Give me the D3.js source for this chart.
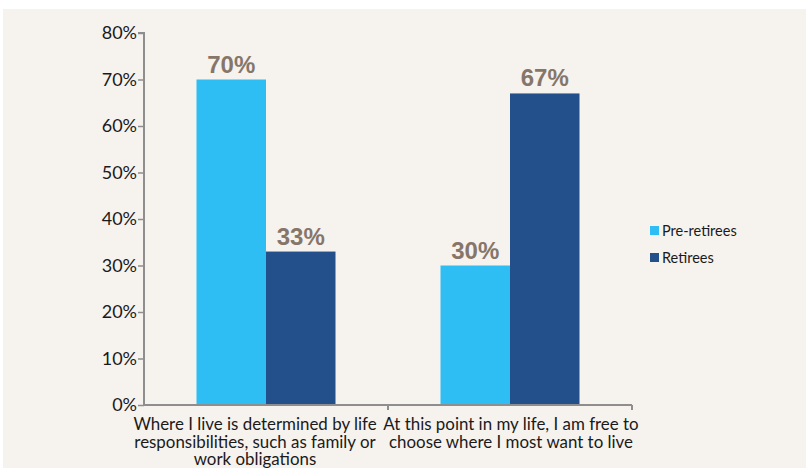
<!DOCTYPE html>
<html><head><meta charset="utf-8">
<script src="https://cdn.jsdelivr.net/npm/d3@7"></script>
<style>body{margin:0;background:#fff}svg{display:block}</style>
</head><body><svg id="c" width="806" height="468"></svg>
<script>
const categories = [
  ["Where I live is determined by life", "responsibilities, such as family or", "work obligations"],
  ["At this point in my life, I am free to", "choose where I most want to live"]
];
const seriesNames = ["Pre-retirees", "Retirees"];
const preRetirees = [70, 30];
const retirees = [33, 67];
const yTicks = [0, 10, 20, 30, 40, 50, 60, 70, 80];
const colors = ["#2fbef4", "#23508b"];

(function () {
const svg = d3.select("#c");
svg.append("rect").attr("x", 3).attr("y", 9).attr("width", 803).attr("height", 459).attr("fill", "#f6f2ee");

const mLeft = 144, mRight = 632, mTop = 33, mBottom = 405;
const x = d3.scaleBand().domain([0, 1]).range([mLeft, mRight]).paddingInner(0).paddingOuter(0);
const y = d3.scaleLinear().domain([0, 80]).range([mBottom, mTop]);
const groupW = 139;
const xs = d3.scaleBand().domain([0, 1]).range([(x.bandwidth() - groupW) / 2, (x.bandwidth() + groupW) / 2]);

const series = [preRetirees, retirees];
series.forEach((vals, si) => {
  vals.forEach((v, ci) => {
    const bx = x(ci) + xs(si);
    svg.append("rect").attr("x", bx).attr("y", y(v)).attr("width", xs.bandwidth()).attr("height", y(0) - y(v)).attr("fill", colors[si]);
    svg.append("text").attr("x", bx + xs.bandwidth() / 2).attr("y", y(v) - 7)
      .attr("text-anchor", "middle").attr("font-family", "Liberation Sans, Arial, sans-serif")
      .attr("font-weight", "bold").attr("font-size", 24).attr("fill", "#86766a").text(v + "%");
  });
});

const yAxis = svg.append("g").attr("transform", `translate(${mLeft},0)`)
  .call(d3.axisLeft(y).tickValues(yTicks).tickFormat(d => d + "%").tickSize(6).tickPadding(1));
yAxis.select(".domain").attr("stroke", "#8e8e8e").attr("stroke-width", 2).attr("d", `M-6,${mTop}H0V${mBottom}`);
yAxis.selectAll(".tick line").attr("stroke", "#8e8e8e").attr("stroke-width", 1.5);
yAxis.selectAll(".tick text").attr("font-family", "Lato, sans-serif").attr("font-size", 18).attr("fill", "#1a1a1a");

const xg = svg.append("g");
xg.append("line").attr("x1", mLeft).attr("x2", mRight).attr("y1", mBottom).attr("y2", mBottom).attr("stroke", "#8e8e8e").attr("stroke-width", 2);
[1, 2].forEach(i => {
  const px = i < 2 ? x(i) : x(1) + x.bandwidth();
  xg.append("line").attr("x1", px).attr("x2", px).attr("y1", mBottom).attr("y2", mBottom + 5).attr("stroke", "#8e8e8e").attr("stroke-width", 2);
});
const labelShift = [-11, 1];
categories.forEach((lines, ci) => {
  const t = svg.append("text").attr("text-anchor", "middle").attr("font-family", "Lato, sans-serif")
    .attr("font-size", 16.9).attr("fill", "#1a1a1a");
  lines.forEach((l, li) => t.append("tspan").attr("x", x(ci) + x.bandwidth() / 2 + labelShift[ci]).attr("y", 430 + li * 17.5).text(l));
});

seriesNames.forEach((n, i) => {
  const ly = 231 + i * 27;
  svg.append("rect").attr("x", 650).attr("y", ly - 5).attr("width", 9).attr("height", 9).attr("fill", colors[i]);
  svg.append("text").attr("x", 662).attr("y", ly + 5).attr("font-family", "Lato, sans-serif")
    .attr("font-size", 14.5).attr("fill", "#1a1a1a").text(n);
});
})();
</script></body></html>
